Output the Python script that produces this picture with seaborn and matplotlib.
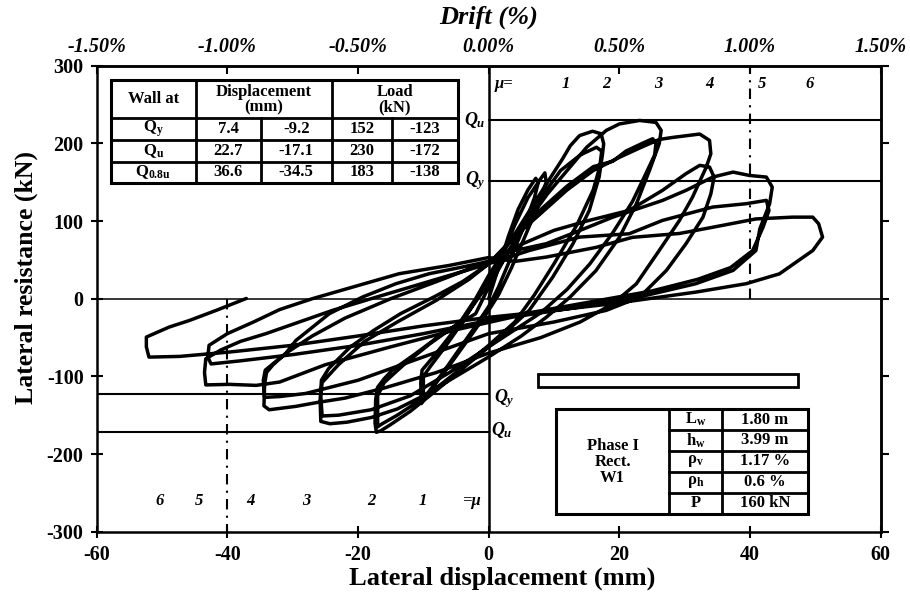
import numpy as np
import pandas as pd
import matplotlib
matplotlib.use("Agg")
import matplotlib.pyplot as plt
import matplotlib.transforms as mtransforms
from matplotlib.lines import Line2D
from matplotlib.patches import Rectangle
import seaborn as sns

# ---------------- data ----------------
# hysteresis cycles: lateral displacement (mm) and lateral load (kN)
c1a_x = [0, 1.5, 3, 4.5, 6, 7.2, 7.6, 7, 5.5, 3.5, 1.5, 0, -2, -4.5, -7, -9.2, -10, -10, -9, -6.5, -4, -1.5, 0]
c1a_y = [0, 40, 80, 115, 140, 155, 150, 130, 95, 55, 15, -10, -35, -65, -95, -120, -128, -100, -88, -60, -30, 5, 25]
c1b_x = [2, 4, 6, 8, 8.6, 8.8, 7.8, 5.8, 3.5, 1.5, 0, -2.5, -5.5, -8, -10.3, -10.4, -10.2, -8, -5, -2, 0]
c1b_y = [55, 95, 130, 155, 162, 150, 125, 85, 40, 5, -15, -45, -80, -108, -135, -108, -92, -70, -38, 0, 30]
c2a_x = [3, 6, 9, 11.3, 12.5, 13.9, 15.9, 17.2, 17.6, 17.4, 16.9, 15.4, 12.9, 9.8, 6.2, 3, 0, -4, -8, -12, -15,
         -16.5, -17.2, -17.4, -17.3, -17.0, -16, -14.8, -11.2, -7.1, -2, 0]
c2a_y = [70, 110, 150, 180, 197, 210, 215.6, 212.4, 199.5, 185, 156.6, 113.7, 70.8, 27.8, -15, -40, -62, -90, -118,
         -145, -162, -170, -172, -160, -130, -114, -103, -92.3, -70.8, -45, -19.3, 15]
c2b_x = [2, 5, 8, 11, 14, 16.5, 17.3, 17, 16, 13.5, 10, 7, 4, 0, -5, -10, -14, -16.5, -17, -17, -16, -13, -9, -4, 0]
c2b_y = [45, 90, 130, 165, 185, 195, 190, 170, 140, 95, 45, 5, -30, -60, -95, -128, -150, -162, -165, -125, -108,
         -85, -58, -28, 20]
c3a_x = [3, 6, 9, 12, 15, 18, 20, 23.1, 25.6, 26.4, 26.1, 24.6, 22.6, 20, 16.4, 12.4, 8.8, 5, 0, -5, -10, -14, -18,
         -21.7, -24.3, -25.7, -25.8, -25.6, -24.5, -21.2, -17.6, -13.5, -8.4, -4, 0]
c3a_y = [60, 100, 135, 165, 195, 216.7, 225, 229.5, 227, 216.7, 199.5, 165, 122, 79, 36, 1.7, -24, -48, -75, -100,
         -125, -142, -153, -159, -161, -158, -130, -105, -90, -62.3, -40.8, -19.3, 2.2, 22, 45]
c3b_x = [4, 8, 12, 16, 19, 21, 23.5, 25.1, 25.6, 25.4, 24, 22, 19, 15.5, 12, 8, 4, 0, -6, -12, -18, -23, -25.5,
         -25.7, -25.5, -23, -19, -14, -8, -3, 0]
c3b_y = [80, 115, 145, 170, 177, 190, 200, 206, 200, 185, 160, 125, 85, 45, 12, -18, -40, -62, -95, -125, -143,
         -150, -151, -125, -108, -85, -55, -30, -2, 25, 45]
c4a_x = [4, 8, 12, 16, 20, 23.1, 26.1, 28.2, 30.2, 32.3, 33.8, 34, 33.3, 31.2, 29.2, 26.1, 22.6, 19, 14, 8, 0, -8,
         -16, -22, -26.5, -29.5, -33.6, -34.4, -34.3, -34, -33, -31.1, -29.5, -24.4, -19.3, -14.2, -9.1, -4, 0]
c4a_y = [80, 110, 140, 165, 182, 194, 205, 207.7, 209.8, 212, 203.8, 186.6, 169.4, 130.8, 100.8, 62.1, 19.2, -6.6,
         -30, -50, -70, -95, -115, -128, -134, -138.6, -143, -138, -110, -95, -85, -70.8, -53.7, -19.3, 2.2, 19.3,
         32.2, 40.8, 48]
c4b_x = [5, 10, 15, 21.5, 26.6, 30.2, 32.3, 33.8, 34.5, 34, 32.8, 30.2, 27.2, 23.1, 18, 10, 0, -10, -20, -28, -32,
         -34.3, -34.5, -34.2, -31, -27, -22, -15, -8, 0]
c4b_y = [70, 88, 100, 113.7, 139.5, 161, 171.7, 169.5, 156.6, 135, 105, 70.8, 36.4, 2, -15, -30, -45, -75, -105,
         -122, -126, -127, -105, -92, -70, -48, -25, 0, 22, 48]
c5a_x = [4, 8.8, 14, 19, 26.6, 30.2, 34.3, 37.4, 39.9, 42.5, 43.4, 43, 41.5, 40.9, 37.4, 31.7, 24.1, 13.9, 3.7, -5,
         -15, -25, -32, -35.6, -39.7, -43.3, -43.5, -43.3, -41, -38, -34.1, -29, -23.9, -18, -12, -6, 0]
c5a_y = [62, 70.8, 88, 105, 126.5, 139.5, 156.6, 163, 158.7, 156.6, 143.7, 122.3, 90, 62, 36.4, 19.3, 4.3, -10.7,
         -23.6, -40, -62, -85, -107.3, -111.6, -110.3, -111, -95, -77.3, -66, -55, -45, -30, -15, 0, 15, 30, 45]
c5b_x = [6.2, 13.9, 21.5, 26.6, 34.3, 39.4, 42.5, 42.9, 42, 40.4, 37, 32, 25, 15, 5, 0, -10, -20, -30, -38, -42.5,
         -43, -42.8, -40, -36, -32, -27, -20, -13.7, -6, 0]
c5b_y = [62, 79.3, 83.6, 100.8, 118, 122.3, 126.6, 113.7, 92.2, 62, 40, 25, 10, -5, -20, -28, -45, -60, -72, -80,
         -84, -75, -60, -45, -30, -14, 0, 17, 32.2, 42.9, 53]
c6_x = [4, 8.8, 16.4, 22, 29.2, 34.3, 40.9, 46.5, 49.6, 50.5, 51.1, 49.6, 44.5, 39.4, 31.7, 19, 8, 0, -10, -20, -30,
        -39.7, -47.3, -52, -52.4, -52.4, -48.9, -45.8, -41.7, -37.1]
c6_y = [48, 53.6, 66, 79, 84, 92, 102.7, 105, 105, 96.5, 79.3, 62, 32, 19.3, 8.5, -6.4, -17, -24, -35, -48, -60,
        -68.7, -74.3, -75.2, -62, -49.4, -36.5, -28, -15, 0.3]

# summary table
table_rows = [r"$\mathbf{Q_y}$", r"$\mathbf{Q_u}$", r"$\mathbf{Q_{0.8u}}$"]
disp_pos = ["7.4", "22.7", "36.6"]
disp_neg = ["-9.2", "-17.1", "-34.5"]
load_pos = [152, 230, 183]
load_neg = [-123, -172, -138]

# specimen table
spec_keys = [r"$\mathbf{L_w}$", r"$\mathbf{h_w}$", r"$\mathbf{ρ_v}$", r"$\mathbf{ρ_h}$", "P"]
spec_vals = ["1.80 m", "3.99 m", "1.17 %", "0.6 %", "160 kN"]
spec_name = "Phase I\nRect.\nW1"

# ductility labels
mu_top_labels = ["1", "2", "3", "4", "5", "6"]
mu_top_x = [11.8, 18.0, 25.9, 33.8, 41.8, 49.1]
mu_bot_labels = ["6", "5", "4", "3", "2", "1"]
mu_bot_x = [-50.4, -44.3, -36.4, -27.9, -18.0, -10.1]

x_ticks = list(range(-60, 61, 20))
y_ticks = list(range(-300, 301, 100))
drift_ticks = [-1.5, -1.0, -0.5, 0.0, 0.5, 1.0, 1.5]
drift_labels = ["-1.50%", "-1.00%", "-0.50%", "0.00%", "0.50%", "1.00%", "1.50%"]

# ---------------- style ----------------
sns.set_style("white")
plt.rcParams.update({
    "font.family": ["Liberation Serif", "DejaVu Serif"],
    "font.weight": "bold",
    "mathtext.fontset": "custom",
    "mathtext.rm": "Liberation Serif:bold",
    "mathtext.it": "Liberation Serif:italic:bold",
    "mathtext.bf": "Liberation Serif:bold",
    "axes.unicode_minus": False,
    "text.color": "black",
    "axes.edgecolor": "black",
    "axes.labelcolor": "black",
    "xtick.color": "black",
    "ytick.color": "black",
})

W, H = 910, 602
fig = plt.figure(figsize=(W / 100, H / 100), dpi=100)
ax = fig.add_axes([96.7 / W, 1 - 531.7 / H, (880.7 - 96.7) / W, (531.7 - 65.7) / H])
pxT = mtransforms.Affine2D().scale(1 / W, -1 / H).translate(0, 1) + fig.transFigure

cycles = [(c1a_x, c1a_y), (c1b_x, c1b_y), (c2a_x, c2a_y), (c2b_x, c2b_y), (c3a_x, c3a_y), (c3b_x, c3b_y),
          (c4a_x, c4a_y), (c4b_x, c4b_y), (c5a_x, c5a_y), (c5b_x, c5b_y), (c6_x, c6_y)]
df = pd.DataFrame({"disp": np.concatenate([np.asarray(c[0], float) for c in cycles]),
                   "load": np.concatenate([np.asarray(c[1], float) for c in cycles])})
sns.lineplot(data=df, x="disp", y="load", sort=False, estimator=None, color="black", lw=2.5, ax=ax, zorder=4)

# reference lines
ax.axhline(0, color="black", lw=1.1, zorder=2)
ax.axvline(0, color="black", lw=1.8, zorder=2)
ax.plot([0, 60], [load_pos[1], load_pos[1]], color="black", lw=1.5, zorder=2)
ax.plot([0, 60], [load_pos[0], load_pos[0]], color="black", lw=1.5, zorder=2)
ax.plot([-60, 0], [load_neg[0], load_neg[0]], color="black", lw=1.5, zorder=2)
ax.plot([-60, 0], [load_neg[1], load_neg[1]], color="black", lw=1.5, zorder=2)
dd = (0, (5, 3, 1, 3))
ax.plot([40, 40], [0, 300], color="black", lw=1.5, ls=dd, zorder=2)
ax.plot([-40, -40], [0, -300], color="black", lw=1.5, ls=dd, zorder=2)

ax.set_xlim(-60, 60)
ax.set_ylim(-300, 300)
ax.set_xticks(x_ticks)
ax.set_yticks(y_ticks)
ax.set_xlabel("")
ax.set_ylabel("")
for s in ax.spines.values():
    s.set_linewidth(1.8)
    s.set_color("black")
ax.tick_params(axis="both", which="major", direction="inout", length=9, width=1.5, labelsize=14.5,
               bottom=True, left=True, top=False, right=False)
ax.tick_params(axis="x", pad=5)
ax.tick_params(axis="y", pad=5)

sec_x = ax.secondary_xaxis("top", functions=(lambda d: d / 40.0, lambda p: p * 40.0))
sec_x.set_xticks(drift_ticks)
sec_x.set_xticklabels(drift_labels, fontstyle="italic", fontweight="bold")
sec_x.tick_params(direction="in", length=6, width=1.5, labelsize=14.5, pad=6)
sec_x.spines["top"].set_linewidth(1.8)

sec_y = ax.secondary_yaxis("right")
sec_y.set_yticks(y_ticks)
sec_y.tick_params(direction="out", length=6, width=1.5, labelright=False)
sec_y.spines["right"].set_linewidth(1.8)

# axis titles
fig.text(489, 17, "Drift (%)", transform=pxT, ha="center", va="center", fontsize=19, fontstyle="italic")
fig.text(502, 578, "Lateral displacement (mm)", transform=pxT, ha="center", va="center", fontsize=19)
fig.text(26, 278, "Lateral resistance (kN)", transform=pxT, ha="center", va="center", fontsize=18.5,
         rotation=90)

# Q labels
ax.text(-0.4, load_pos[1], r"$\mathit{Q_u}$", ha="right", va="center", fontsize=13, zorder=5)
ax.text(-0.4, load_pos[0], r"$\mathit{Q_y}$", ha="right", va="center", fontsize=13, zorder=5)
ax.text(0.8, load_neg[0] - 6, r"$\mathit{Q_y}$", ha="left", va="center", fontsize=13, zorder=5)
ax.text(0.4, load_neg[1] + 3, r"$\mathit{Q_u}$", ha="left", va="center", fontsize=13, zorder=5)

# ductility labels
ax.text(2.4, 277, "μ=", ha="center", va="center", fontsize=12, fontstyle="italic")
for lab, xv in zip(mu_top_labels, mu_top_x):
    ax.text(xv, 277, lab, ha="center", va="center", fontsize=12, fontstyle="italic")
for lab, xv in zip(mu_bot_labels, mu_bot_x):
    ax.text(xv, -260, lab, ha="center", va="center", fontsize=12, fontstyle="italic")
ax.text(-2.7, -260, "=μ", ha="center", va="center", fontsize=12, fontstyle="italic")

# empty bar
ax.add_patch(Rectangle((7.6, -113.8), 39.8, 16.3, facecolor="white", edgecolor="black", lw=2.0, zorder=5))


def seg(x0, y0, x1, y1, lw=2.0):
    fig.add_artist(Line2D([x0, x1], [y0, y1], transform=pxT, color="black", lw=lw, zorder=6,
                          solid_capstyle="projecting"))


def box(x0, y0, x1, y1, lw=2.2):
    fig.add_artist(Rectangle((x0, y1), x1 - x0, y0 - y1, transform=pxT, facecolor="white",
                             edgecolor="black", lw=lw, zorder=6))


# summary table (pixel layout)
L, R, T, B = 110.7, 458.0, 80.0, 183.0
box(L, T, R, B)
for yy in [118.3, 140.0, 161.7]:
    seg(L, yy, R, yy)
seg(196.0, T, 196.0, B)
seg(331.7, T, 331.7, B)
seg(260.7, 118.3, 260.7, B)
seg(391.7, 118.3, 391.7, B)
cx = [153.4, 228.4, 296.2, 361.7, 424.9]
ry = [129.2, 150.9, 172.4]
tk = dict(transform=pxT, ha="center", va="center", fontsize=12, zorder=7)
fig.text(153.4, 99.2, "Wall at", **tk)
fig.text(264.0, 99.2, "Displacement\n(mm)", linespacing=0.95, **tk)
fig.text(394.9, 99.2, "Load\n(kN)", linespacing=0.95, **tk)
for i in range(3):
    fig.text(cx[0], ry[i], table_rows[i], **tk)
    fig.text(cx[1], ry[i], disp_pos[i], **tk)
    fig.text(cx[2], ry[i], disp_neg[i], **tk)
    fig.text(cx[3], ry[i], str(load_pos[i]), **tk)
    fig.text(cx[4], ry[i], str(load_neg[i]), **tk)

# specimen table
L2, R2, T2, B2 = 556.0, 808.3, 409.3, 514.0
box(L2, T2, R2, B2)
seg(669.3, T2, 669.3, B2)
seg(721.7, T2, 721.7, B2)
for yy in [430.0, 450.7, 472.0, 492.7]:
    seg(669.3, yy, R2, yy)
fig.text(612.7, 461.7, spec_name, linespacing=1.0, **tk)
sy = [419.7, 440.4, 461.4, 482.4, 503.4]
for k, v, yy in zip(spec_keys, spec_vals, sy):
    fig.text(695.5, yy, k, **tk)
    fig.text(765.0, yy, v, **tk)

fig.savefig("out.png", dpi=100)
